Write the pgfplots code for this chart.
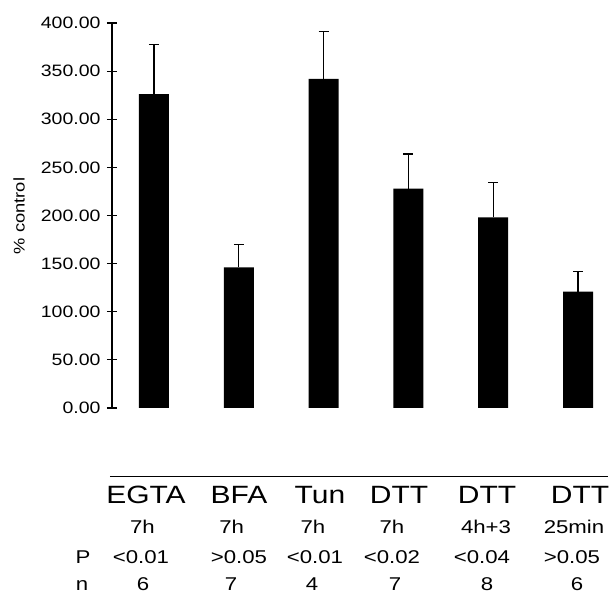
\documentclass[border=0pt]{standalone}
\usepackage{fontspec}
\setmainfont{Liberation Sans}
\newfontfamily\tickfont[FakeStretch=1.18]{Liberation Sans}
\newfontfamily\tabfont[FakeStretch=1.2]{Liberation Sans}
\usepackage{pgfplots}
\pgfplotsset{compat=1.18}

\begin{document}
\begin{tikzpicture}[x=1pt,y=1pt]
\path[use as bounding box] (-112,-186) rectangle (499,408);
\begin{axis}[
    at={(0,0)}, anchor=south west,
    scale only axis, width=499pt, height=385pt,
    xmin=-0.495, xmax=5.389,
    ymin=0, ymax=400,
    axis x line=none,
    axis y line*=left,
    ytick={0,50,...,400},
    tick align=center,
    major tick length=10pt,
    axis line style={line width=1.2pt},
    tick style={line width=1.2pt, black},
    yticklabel style={font=\tickfont\fontsize{16.5}{16.5}\selectfont, xshift=-3pt,
        /pgf/number format/.cd, fixed, fixed zerofill, precision=2,
        assume math mode=true},
    clip=false,
]
\addplot[ybar, bar width=30pt, fill=black, draw=none,
    error bars/.cd, y dir=plus, y explicit,
    error bar style={line width=1.3pt, black},
    error mark options={rotate=90, line width=1.3pt, mark size=5pt, black}]
coordinates {
    (0,326) +- (0,52)
    (1,146) +- (0,24)
    (2,342) +- (0,49)
    (3,228) +- (0,36)
    (4,198) +- (0,36)
    (5,121) +- (0,21)
};
\end{axis}

% y label
\node[rotate=90, font=\tickfont\fontsize{15.5}{15.5}\selectfont] at (-93,192) {\% control};

% table under the chart
\draw[line width=1.2pt] (-2,-68.7) -- (496,-68.7);
\begin{scope}[every node/.style={anchor=base, inner sep=0pt}]
\tikzset{r1/.style={font=\tabfont\fontsize{25}{25}\selectfont},
         rr/.style={font=\tabfont\fontsize{18.5}{18.5}\selectfont}}
\node[r1] at (34,-96) {EGTA};
\node[r1] at (127,-96) {BFA};
\node[r1] at (208,-96) {Tun};
\node[r1] at (287,-96) {DTT};
\node[r1] at (375,-96) {DTT};
\node[r1] at (468,-96) {DTT};

\node[rr] at (30.5,-126) {7h};
\node[rr] at (119.7,-126) {7h};
\node[rr] at (201,-126) {7h};
\node[rr] at (280,-126) {7h};
\node[rr] at (374,-126) {4h+3};
\node[rr] at (462,-126) {25min};

\node[rr] at (-29,-155.5) {P};
\node[rr] at (29,-155.5) {<0.01};
\node[rr] at (127,-155.5) {>0.05};
\node[rr] at (203,-155.5) {<0.01};
\node[rr] at (280,-155.5) {<0.02};
\node[rr] at (370,-155.5) {<0.04};
\node[rr] at (460,-155.5) {>0.05};

\node[rr] at (-30,-183) {n};
\node[rr] at (31,-183) {6};
\node[rr] at (119,-183) {7};
\node[rr] at (200,-183) {4};
\node[rr] at (283,-183) {7};
\node[rr] at (375,-183) {8};
\node[rr] at (465,-183) {6};
\end{scope}
\end{tikzpicture}
\end{document}
